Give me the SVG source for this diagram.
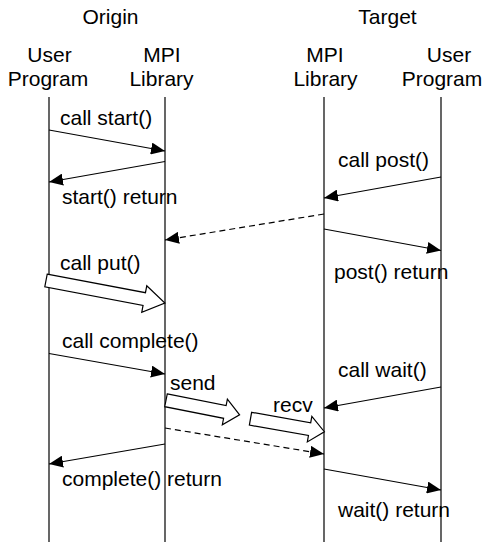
<svg xmlns="http://www.w3.org/2000/svg" width="482" height="542" viewBox="0 0 482 542">
<style>
text{font-family:"Liberation Sans",Arial,sans-serif;font-size:21px;fill:#000}
.c{text-anchor:middle}
.life{stroke:#000;stroke-width:1.2;fill:none}
.msg{stroke:#000;stroke-width:1.2;fill:none;marker-end:url(#ah)}
.dash{stroke-dasharray:6,4}
.fat{fill:#fff;stroke:#000;stroke-width:1.2;stroke-linejoin:miter}
</style>
<defs>
<marker id="ah" markerUnits="userSpaceOnUse" markerWidth="14" markerHeight="12" refX="14" refY="6" orient="auto">
<path d="M0,0 L14,6 L0,12 z" fill="#000"/>
</marker>
</defs>
<rect width="482" height="542" fill="#fff"/>
<g id="origin-title"><text class="c" x="110.5" y="24">Origin</text></g>
<g id="target-title"><text class="c" x="387.5" y="24">Target</text></g>
<g id="origin-user">
<text class="c" x="49.5" y="62">User</text>
<text class="c" x="48" y="86">Program</text>
<line class="life" x1="49" y1="97" x2="49" y2="542"/>
</g>
<g id="origin-mpi">
<text class="c" x="162" y="62">MPI</text>
<text class="c" x="161.5" y="86">Library</text>
<line class="life" x1="165" y1="97" x2="165" y2="542"/>
</g>
<g id="target-mpi">
<text class="c" x="325" y="62">MPI</text>
<text class="c" x="325.5" y="86">Library</text>
<line class="life" x1="324" y1="97" x2="324" y2="542"/>
</g>
<g id="target-user">
<text class="c" x="449" y="62">User</text>
<text class="c" x="442" y="86">Program</text>
<line class="life" x1="441" y1="97" x2="441" y2="542"/>
</g>
<g id="connectors">
<line class="msg" x1="49" y1="130" x2="165" y2="151"/>
<line class="msg" x1="165" y1="161.5" x2="49" y2="182"/>
<line class="msg" x1="441" y1="177" x2="324" y2="198"/>
<line class="msg dash" x1="324" y1="214" x2="165" y2="240"/>
<line class="msg" x1="324" y1="229" x2="441" y2="250.5"/>
<polygon class="fat" transform="translate(46,280.5) rotate(10.7)" points="0,-6.5 100,-6.5 100,-13.5 121,0 100,13.5 100,6.5 0,6.5"/>
<line class="msg" x1="49" y1="353.5" x2="165" y2="374"/>
<line class="msg" x1="441" y1="387" x2="324" y2="408"/>
<polygon class="fat" transform="translate(166,400.3) rotate(11.2)" points="0,-6.5 60,-6.5 60,-13 75,0 60,13 60,6.5 0,6.5"/>
<polygon class="fat" transform="translate(250.5,418.7) rotate(10)" points="0,-6.5 60,-6.5 60,-13 75,0 60,13 60,6.5 0,6.5"/>
<line class="msg dash" x1="165" y1="428" x2="324" y2="454"/>
<line class="msg" x1="165" y1="444" x2="49" y2="464"/>
<line class="msg" x1="324" y1="469" x2="441" y2="490"/>
</g>
<g id="labels">
<text x="60" y="125">call start()</text>
<text x="62" y="204">start() return</text>
<text x="338" y="167">call post()</text>
<text x="334" y="279">post() return</text>
<text x="60" y="270">call put()</text>
<text x="62" y="348">call complete()</text>
<text x="338" y="376.5">call wait()</text>
<text x="170" y="390">send</text>
<text x="273" y="411.5">recv</text>
<text x="62" y="486">complete() return</text>
<text x="338" y="517">wait() return</text>
</g>
</svg>
